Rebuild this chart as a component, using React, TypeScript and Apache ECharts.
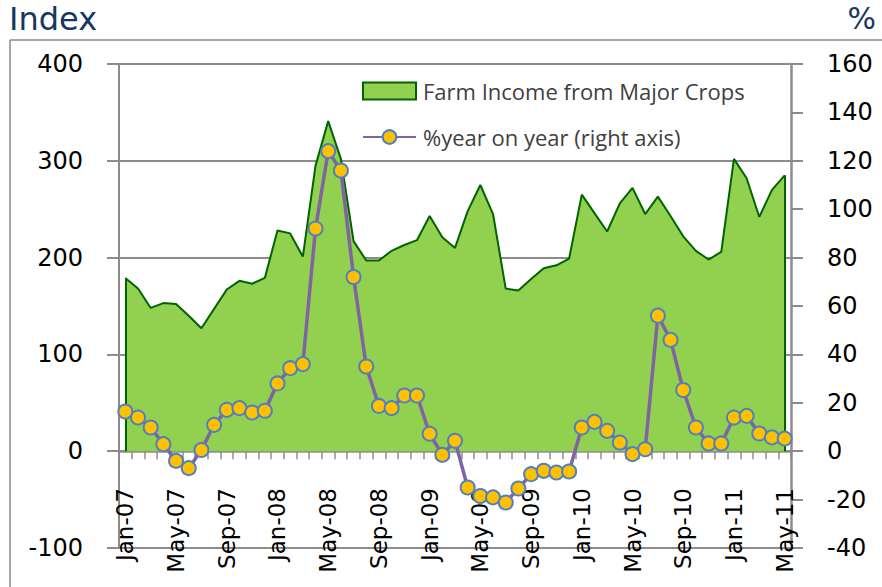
import React, { useEffect, useRef } from "react";
import * as echarts from "echarts";

const categories = [
  "Jan-07","Feb-07","Mar-07","Apr-07","May-07","Jun-07","Jul-07","Aug-07","Sep-07","Oct-07","Nov-07","Dec-07",
  "Jan-08","Feb-08","Mar-08","Apr-08","May-08","Jun-08","Jul-08","Aug-08","Sep-08","Oct-08","Nov-08","Dec-08",
  "Jan-09","Feb-09","Mar-09","Apr-09","May-09","Jun-09","Jul-09","Aug-09","Sep-09","Oct-09","Nov-09","Dec-09",
  "Jan-10","Feb-10","Mar-10","Apr-10","May-10","Jun-10","Jul-10","Aug-10","Sep-10","Oct-10","Nov-10","Dec-10",
  "Jan-11","Feb-11","Mar-11","Apr-11","May-11",
];

const farmIncome = [
  179, 168, 148, 153, 152, 140, 127, 147, 167, 176, 173, 179,
  228, 225, 201, 295, 341, 302, 217, 197, 197, 207, 213, 218,
  243, 221, 210, 248, 275, 245, 168, 166, 178, 189, 192, 199,
  265, 246, 227, 256, 272, 245, 263, 243, 222, 207, 198, 206,
  302, 282, 242, 270, 285,
];

const yearOnYear = [
  16.4, 13.9, 9.8, 2.9, -4.0, -7.0, 0.5, 10.9, 17.1, 17.8, 16.0, 16.7,
  28, 34.3, 36, 92, 124, 116, 72, 35, 18.7, 17.8, 23, 23,
  7.2, -1.5, 4.3, -15, -18.5, -19.1, -21.2, -15.4, -9.5, -8.1, -8.8, -8.4,
  9.8, 12.1, 8.4, 3.6, -1.2, 0.8, 56, 46, 25.3, 9.8, 3.2, 3.2,
  13.9, 14.6, 7.3, 5.7, 5.2,
];

const seriesNames = ["Farm Income from Major Crops", "%year on year (right axis)"];

const AXIS_FONT = "DejaVu Sans";
const GRID_COLOR = "#8c8c8c";

export default function App() {
  const ref = useRef<HTMLDivElement>(null);

  useEffect(() => {
    if (!ref.current) return;
    const chart = echarts.init(ref.current, undefined, { renderer: "svg" });
    const last = categories.length - 1;
    chart.setOption({
      animation: false,
      backgroundColor: "#ffffff",
      grid: { left: 119, right: 91, top: 64, bottom: 39, containLabel: false, outerBoundsMode: "none" },
      graphic: [
        { type: "line", shape: { x1: 10, y1: 40, x2: 882, y2: 40 }, style: { stroke: "#a6a6a6", lineWidth: 2 } },
        { type: "line", shape: { x1: 10, y1: 40, x2: 10, y2: 587 }, style: { stroke: "#a6a6a6", lineWidth: 2 } },
        { type: "text", left: 9, top: 3, style: { text: "Index", fill: "#17375e", font: "32px DejaVu Sans" } },
        { type: "text", right: 6, top: 3, style: { text: "%", fill: "#17375e", font: "30px DejaVu Sans" } },
      ],
      legend: {
        orient: "vertical",
        left: 362,
        top: 80,
        padding: 0,
        itemWidth: 53,
        itemHeight: 17,
        itemGap: 24,
        textStyle: { fontFamily: "Open Sans", fontSize: 22, color: "#404040", padding: [0, 0, 0, 2] },
        data: [
          { name: seriesNames[0], icon: "rect", itemStyle: { color: "#92d050", borderColor: "#006400", borderWidth: 2 } },
          { name: seriesNames[1] },
        ],
      },
      xAxis: {
        type: "category",
        data: categories,
        boundaryGap: true,
        axisLine: { onZero: true, onZeroAxisIndex: 0, lineStyle: { color: GRID_COLOR, width: 2.5 } },
        axisTick: { show: true, interval: 0, length: 8, lineStyle: { color: GRID_COLOR, width: 1.5 } },
        axisLabel: {
          interval: 3,
          rotate: 90,
          margin: -60,
          fontFamily: AXIS_FONT,
          fontSize: 23,
          color: "#000",
        },
        splitLine: { show: false },
      },
      yAxis: [
        {
          type: "value",
          min: -100,
          max: 400,
          interval: 100,
          axisLine: { show: true, lineStyle: { color: GRID_COLOR, width: 2 } },
          axisTick: { show: true, length: 12, lineStyle: { color: GRID_COLOR, width: 2 } },
          axisLabel: { margin: 36, fontFamily: AXIS_FONT, fontSize: 24, color: "#000" },
          splitLine: { show: true, lineStyle: { color: GRID_COLOR, width: 2 } },
        },
        {
          type: "value",
          min: -40,
          max: 160,
          interval: 20,
          position: "right",
          axisLine: { show: true, lineStyle: { color: GRID_COLOR, width: 2.5 } },
          axisTick: { show: true, length: 12, lineStyle: { color: GRID_COLOR, width: 2 } },
          axisLabel: { margin: 36, fontFamily: AXIS_FONT, fontSize: 24, color: "#000", align: "left" },
          splitLine: { show: false },
        },
      ],
      series: [
        {
          name: seriesNames[0],
          type: "line",
          yAxisIndex: 0,
          data: farmIncome,
          showSymbol: false,
          symbol: "none",
          itemStyle: { color: "#92d050", borderColor: "#006400" },
          lineStyle: { color: "#006400", width: 2 },
          areaStyle: { color: "#92d050", opacity: 1, origin: 0 },
          z: 2,
          markLine: {
            silent: true,
            symbol: "none",
            label: { show: false },
            lineStyle: { color: "#006400", width: 2, type: "solid" },
            data: [
              [{ coord: [categories[0], 0] }, { coord: [categories[0], farmIncome[0]] }],
              [{ coord: [categories[last], 0] }, { coord: [categories[last], farmIncome[last]] }],
            ],
          },
        },
        {
          name: seriesNames[1],
          type: "line",
          yAxisIndex: 1,
          data: yearOnYear,
          symbol: "circle",
          symbolSize: 14,
          showSymbol: true,
          showAllSymbol: true,
          lineStyle: { color: "#8064a2", width: 3.5 },
          itemStyle: { color: "#ffc000", borderColor: "#4f81bd", borderWidth: 2 },
          z: 5,
        },
      ],
    });
    return () => chart.dispose();
  }, []);

  return <div ref={ref} style={{ width: 882, height: 587, position: "absolute", left: 0, top: 0 }} />;
}
